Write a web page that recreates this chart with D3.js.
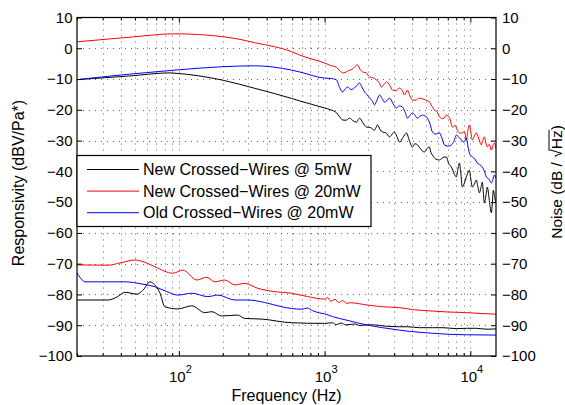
<!DOCTYPE html>
<html><head><meta charset="utf-8">
<script src="https://cdn.jsdelivr.net/npm/d3@7"></script>
<style>
html,body{margin:0;padding:0;background:#fff;}
svg{display:block;font-family:"Liberation Sans",Arial,Helvetica,sans-serif;}
</style></head><body>
<svg id="chart" width="565" height="405"></svg>
<script>
// ---------- data ----------
const yTicks = [10,0,-10,-20,-30,-40,-50,-60,-70,-80,-90,-100];
const xMajorTicks = [100,1000,10000];
const xMinorTicks = [20,30,40,50,60,70,80,90,200,300,400,500,600,700,800,900,2000,3000,4000,5000,6000,7000,8000,9000];
const xTickExponents = ["2","3","4"];
const legendLabels = ["New Crossed\u2212Wires @ 5mW","New Crossed\u2212Wires @ 20mW","Old Crossed\u2212Wires @ 20mW"];
const seriesColors = ["#000000","#ff0000","#0000ff"];
const xLabel = "Frequency (Hz)";
const yLabelLeft = "Responsivity (dBV/Pa*)";

// responsivity [Hz, dB]
const respBlack = [[20,-10.2],[46,-9.0],[87,-8.0],[94,-8.1],[197,-10.3],[331,-13.0],[594,-16.3],[674,-17.1],[1000,-19.4],[1100,-20.0],[1208,-21.0],[1270,-22.3],[1328,-23.3],[1400,-23.4],[1484,-22.7],[1570,-23.6],[1656,-24.0],[1700,-23.2],[1737,-22.7],[1830,-24.2],[1940,-25.6],[2070,-25.8],[2200,-26.6],[2250,-25.8],[2307,-24.9],[2400,-26.4],[2495,-27.2],[2640,-27.5],[2787,-28.8],[2900,-28.0],[3015,-27.2],[3130,-28.6],[3264,-30.5],[3450,-29.0],[3645,-27.5],[3820,-30.1],[4008,-32.1],[4170,-31.0],[4338,-31.4],[4600,-33.0],[4845,-33.7],[5030,-32.6],[5240,-32.1],[5360,-33.8],[5492,-34.7],[5800,-36.0],[6135,-36.3],[6500,-35.5],[6854,-35.3],[7100,-37.5],[7418,-38.6],[7700,-40.5],[8022,-41.8],[8200,-39.5],[8408,-37.3],[8600,-40.5],[8810,-45.1],[9100,-43.8],[9390,-41.8],[9600,-40.6],[9844,-39.6],[10080,-42.5],[10320,-45.1],[10650,-44.2],[10990,-42.8],[11250,-44.8],[11530,-47.0],[11800,-45.5],[12080,-43.5],[12280,-47.0],[12480,-50.3],[12780,-48.0],[13080,-45.1],[13500,-49.5],[13930,-53.5],[14150,-50.5],[14370,-46.1],[14700,-48.5],[15000,-50.3]];
const respRed = [[20,2.1],[46,3.6],[94,4.7],[197,3.8],[262,2.9],[331,1.8],[454,0.5],[594,-1.1],[674,-2.2],[1000,-4.8],[1100,-5.6],[1208,-6.2],[1270,-7.3],[1349,-8.0],[1484,-7.1],[1540,-6.9],[1605,-6.1],[1683,-5.4],[1750,-6.8],[1820,-7.7],[1930,-8.0],[2033,-9.3],[2150,-9.6],[2271,-10.3],[2370,-11.2],[2457,-12.6],[2550,-11.8],[2659,-11.0],[2800,-12.0],[2921,-13.6],[3100,-13.8],[3264,-12.9],[3400,-13.6],[3531,-15.2],[3703,-13.6],[3850,-15.5],[4008,-16.8],[4200,-16.9],[4478,-16.2],[4800,-16.6],[5240,-17.5],[5450,-18.8],[5669,-20.1],[5900,-20.6],[6135,-22.3],[6500,-22.9],[6854,-21.7],[7200,-22.6],[7536,-25.6],[7850,-25.0],[8150,-26.6],[8500,-27.6],[8810,-27.5],[9100,-27.0],[9390,-29.8],[9600,-27.0],[9844,-24.9],[10100,-27.5],[10320,-29.8],[10650,-28.6],[10990,-27.5],[11400,-29.2],[11890,-31.4],[12150,-30.0],[12480,-28.8],[12750,-30.5],[13080,-32.1],[13500,-31.2],[13930,-33.1],[14300,-31.5],[14600,-30.8],[15000,-32.4]];
const respBlue = [[20,-10.2],[46,-8.4],[94,-7.1],[197,-6.0],[331,-5.7],[594,-7.1],[674,-7.7],[1000,-9.7],[1100,-9.8],[1208,-10.3],[1270,-12.8],[1328,-14.2],[1380,-13.3],[1438,-12.6],[1520,-13.4],[1605,-12.9],[1670,-12.0],[1737,-11.3],[1800,-12.5],[1879,-14.2],[1950,-15.0],[2033,-16.2],[2120,-17.0],[2200,-18.4],[2290,-16.8],[2381,-15.2],[2480,-16.3],[2576,-17.5],[2680,-17.0],[2787,-16.2],[2950,-18.0],[3112,-19.4],[3260,-18.7],[3421,-19.1],[3550,-20.5],[3703,-22.7],[3850,-21.8],[4008,-21.0],[4150,-21.6],[4338,-22.7],[4500,-22.1],[4693,-21.7],[4880,-22.0],[5076,-22.7],[5280,-24.5],[5492,-27.2],[5800,-27.9],[6135,-27.5],[6380,-29.2],[6640,-31.4],[7000,-31.8],[7418,-31.4],[7700,-30.3],[8022,-28.2],[8350,-28.9],[8680,-29.8],[9050,-30.5],[9390,-29.2],[9600,-31.5],[9844,-34.0],[10080,-34.9],[10320,-35.3],[10750,-36.0],[11170,-37.3],[11600,-37.8],[12080,-38.6],[12480,-39.9],[12880,-41.8],[13400,-42.5],[13930,-43.8],[14300,-42.6],[14600,-41.2],[15000,-42.2]];

// noise [Hz, dB/sqrt(Hz)]
const noiseBlack = [[20,-81.8],[32.6,-81.8],[35,-81.5],[38,-80.7],[42.7,-79.3],[51.6,-79.9],[57,-78.5],[63.3,-75.9],[68,-76.8],[74.1,-79.5],[80.2,-84.0],[98.4,-84.7],[122.7,-83.7],[150.7,-85.9],[168.4,-85.6],[197,-87.0],[253.5,-86.7],[283,-87.8],[370,-88.0],[594,-89.2],[1000,-89.4],[1134,-89.2],[1200,-89.8],[1300,-89.3],[1400,-89.9],[1600,-89.6],[1750,-90.1],[1940,-89.9],[2200,-89.9],[2500,-90.2],[2800,-90.4],[3264,-90.5],[3700,-90.5],[4500,-90.8],[5492,-90.8],[6500,-90.8],[8000,-91.1],[9390,-91.0],[11000,-91.0],[13000,-91.3],[15000,-91.2]];
const noiseRed = [[20,-70.4],[32.6,-70.5],[40,-69.7],[50,-68.8],[58,-69.5],[68.5,-71.0],[91,-73.1],[106.5,-72.1],[132.8,-75.3],[155.6,-74.4],[176.6,-75.9],[206.5,-75.3],[241.8,-76.9],[283,-76.4],[347.6,-78.0],[454,-79.1],[594,-79.6],[765,-80.7],[1000,-81.5],[1050,-81.0],[1100,-82.2],[1180,-81.6],[1250,-82.6],[1330,-82.0],[1420,-82.9],[1500,-82.7],[1940,-83.4],[2500,-84.0],[3264,-84.3],[4000,-84.9],[5492,-85.4],[7000,-85.7],[9390,-85.9],[12000,-86.2],[15000,-86.4]];
const noiseBlue = [[20,-73.0],[21,-74.5],[22.7,-75.9],[42.7,-75.9],[55.8,-76.6],[68.5,-77.5],[82.8,-79.1],[98.4,-80.2],[122.7,-79.6],[158,-80.7],[185,-80.2],[241.8,-81.8],[297,-81.8],[388,-82.6],[507,-84.0],[696,-84.8],[760,-84.4],[830,-85.3],[924,-86.0],[1000,-86.3],[1134,-87.2],[1400,-88.3],[1940,-89.9],[2500,-90.8],[3264,-91.6],[4500,-92.3],[5492,-92.6],[7500,-93.0],[9390,-93.1],[15000,-93.2]];

const series = [
  {data: respBlack, c: 0},{data: respRed, c: 1},{data: respBlue, c: 2},
  {data: noiseBlack, c: 0},{data: noiseRed, c: 1},{data: noiseBlue, c: 2}
];

// ---------- layout ----------
const L = 77, R = 496, T = 17.5, B = 356;
const svg = d3.select("#chart");
const x = d3.scaleLog().domain([20,15000]).range([L,R]);
const y = d3.scaleLinear().domain([-100,10]).range([B,T]);
const fmt = d => d < 0 ? "\u2212" + Math.abs(d) : String(d);

// grid
const grid = svg.append("g").attr("stroke","#555").attr("stroke-width",0.9).attr("stroke-dasharray","1,5");
grid.selectAll("line.h").data(yTicks.filter(d => d < 10 && d > -100)).join("line")
  .attr("x1",L).attr("x2",R).attr("y1",d => Math.round(y(d))+0.5).attr("y2",d => Math.round(y(d))+0.5);
grid.selectAll("line.v").data(xMajorTicks.concat(xMinorTicks).filter(d => d > 20)).join("line")
  .attr("y1",T).attr("y2",B).attr("x1",d => Math.round(x(d))+0.5).attr("x2",d => Math.round(x(d))+0.5);

// clip
svg.append("clipPath").attr("id","clip").append("rect").attr("x",L).attr("y",T).attr("width",R-L).attr("height",B-T);

// lines
const line = d3.line().x(d => x(d[0])).y(d => y(d[1])).curve(d3.curveMonotoneX);
svg.append("g").attr("clip-path","url(#clip)").selectAll("path").data(series).join("path")
  .attr("d", s => line(s.data)).attr("fill","none")
  .attr("stroke", s => seriesColors[s.c]).attr("stroke-width",1);

// axes
const axStyle = g => {
  g.select(".domain").remove();
  g.selectAll(".tick line").attr("stroke","#000");
  g.selectAll(".tick text").attr("fill","#000").attr("font-size",15).attr("font-family","'Liberation Sans',Arial,sans-serif");
};
svg.append("g").attr("transform",`translate(${L},0)`)
  .call(d3.axisLeft(y).tickValues(yTicks).tickSize(-5).tickPadding(4.5).tickFormat(fmt)).call(axStyle);
svg.append("g").attr("transform",`translate(${R},0)`)
  .call(d3.axisRight(y).tickValues(yTicks).tickSize(-5).tickPadding(6).tickFormat(fmt)).call(axStyle);

const bottom = svg.append("g").attr("transform",`translate(0,${B})`)
  .call(d3.axisBottom(x).tickValues(xMajorTicks).tickSize(-5).tickPadding(0).tickFormat(() => "")).call(axStyle);
bottom.selectAll(".tick text").each(function(d,i){
  const t = d3.select(this).attr("y",26).attr("dy",null).attr("text-anchor","middle");
  t.append("tspan").text("10");
  t.append("tspan").attr("font-size",11).attr("dy",-9.5).text(xTickExponents[i]);
  t.attr("transform","translate(1,0)");
});
svg.append("g").attr("transform",`translate(0,${B})`)
  .call(d3.axisBottom(x).tickValues(xMinorTicks).tickSize(-3).tickFormat(() => "")).call(axStyle);
svg.append("g").attr("transform",`translate(0,${T})`)
  .call(d3.axisTop(x).tickValues(xMajorTicks).tickSize(-5).tickFormat(() => "")).call(axStyle);
svg.append("g").attr("transform",`translate(0,${T})`)
  .call(d3.axisTop(x).tickValues(xMinorTicks).tickSize(-3).tickFormat(() => "")).call(axStyle);

// box
svg.append("rect").attr("x",L).attr("y",T).attr("width",R-L).attr("height",B-T)
  .attr("fill","none").attr("stroke","#000").attr("stroke-width",1.2);

// axis labels
svg.append("text").attr("x",(L+R)/2).attr("y",401).attr("text-anchor","middle")
  .attr("font-size",16).text(xLabel);
svg.append("text").attr("transform","translate(24,183) rotate(-90)").attr("text-anchor","middle")
  .attr("font-size",16).text(yLabelLeft);
const rl = svg.append("g").attr("transform","translate(562,182) rotate(-90)");
const rt = rl.append("text").attr("text-anchor","middle").attr("font-size",15.5).text("Noise (dB / \u221AHz)");
const node = rt.node();
const str = node.textContent;
const iH = str.indexOf("H"), iZ = str.indexOf("z");
const p1 = node.getEndPositionOfChar(iZ);
const pr = node.getStartPositionOfChar(iH-1);
rl.append("line").attr("x1",pr.x+7).attr("x2",p1.x+0.5).attr("y1",-13).attr("y2",-13)
  .attr("stroke","#000").attr("stroke-width",1);

// legend
const lg = svg.append("g");
lg.append("rect").attr("x",L).attr("y",155.5).attr("width",294).attr("height",71)
  .attr("fill","#fff").attr("stroke","#000").attr("stroke-width",1.2);
const rows = lg.selectAll("g.row").data(legendLabels).join("g")
  .attr("transform",(d,i) => `translate(0,${169.5 + i*21.6})`);
rows.append("line").attr("x1",87).attr("x2",139).attr("y1",0).attr("y2",0)
  .attr("stroke",(d,i) => seriesColors[i]).attr("stroke-width",1);
rows.append("text").attr("x",143).attr("y",5.6).attr("font-size",16).text(d => d);
</script>
</body></html>
